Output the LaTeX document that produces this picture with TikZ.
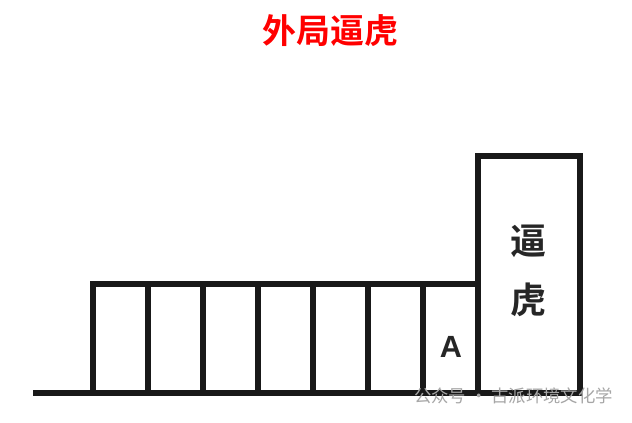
\documentclass[tikz,border=0pt]{standalone}
\usepackage{fontspec}
\setmainfont{Liberation Sans}
\newfontfamily\cjk{Noto Sans CJK SC}
\newfontfamily\cjkb{Noto Sans CJK SC Bold}
\begin{document}
\begin{tikzpicture}[x=0.75pt,y=-0.75pt,
  wall/.style={line width=3.8pt,line cap=rect,black!90},
  lbl/.style={inner sep=0pt}]
\useasboundingbox[fill=white] (0,0) rectangle (632,422);
\node[lbl,text=red,font=\cjkb\fontsize{25.5}{28}\selectfont] (title) at (330,31) {外局逼虎};
% ground
\coordinate (g0) at (33,393);
\coordinate (g1) at (580,393);
\draw[wall,line cap=butt] (g0) -- (g1);
% row of rooms
\foreach \i in {0,...,7}{
  \coordinate (b\i) at ({93+55*\i},393);
  \coordinate (t\i) at ({93+55*\i},284);
  \draw[wall] (b\i) -- (t\i);
}
\draw[wall] (t0) -- (t7);
% tall box
\coordinate (T0) at (478,156);
\coordinate (T1) at (580,156);
\draw[wall] (b7) -- (T0) -- (T1) -- (g1);
\node[lbl,font=\fontsize{23}{26}\selectfont\bfseries,text=black!85] (A) at (451,347) {A};
\node[lbl,font=\cjkb\fontsize{27}{30}\selectfont,text=black!85] (bi) at (528,241) {逼};
\node[lbl,font=\cjkb\fontsize{27}{30}\selectfont,text=black!85] (hu) at (528,300) {虎};
\node[lbl,font=\cjk\fontsize{13}{15}\selectfont,text=black!35,anchor=west] (wm) at (414,396) {公众号 · 古派环境文化学};
\end{tikzpicture}
\end{document}
